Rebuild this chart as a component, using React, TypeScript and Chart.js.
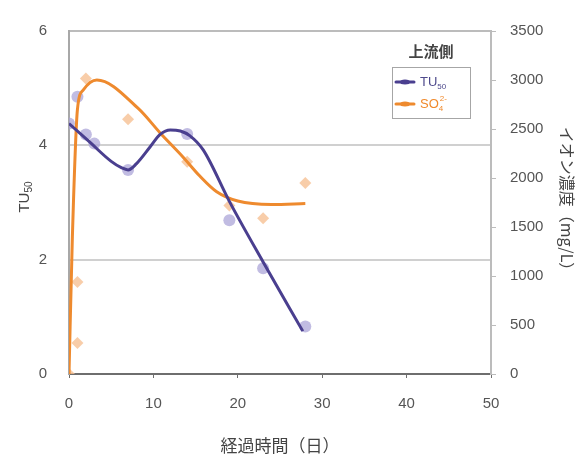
import React, { useEffect, useRef } from "react";
import { Chart, registerables } from "chart.js";

Chart.register(...registerables);

// Measured points (markers)
const tuDays = [0, 1, 2, 3, 7, 14, 19, 23, 28];
const tuValues = [4.38, 4.85, 4.19, 4.03, 3.57, 4.2, 2.69, 1.85, 0.83];
const so4Days = [0, 1, 1, 2, 7, 14, 19, 23, 28];
const so4Values = [0, 316, 940, 3016, 2600, 2166, 1720, 1590, 1950];

// Smoothed curves
const tuCurveDays = [0, 2.5, 5, 6.2, 7, 8, 9.6, 10.8, 12, 13.2, 14.3, 15.9, 19, 23, 27.7];
const tuCurveValues = [4.38, 4.05, 3.72, 3.61, 3.57, 3.68, 3.97, 4.19, 4.27, 4.25, 4.17, 3.92, 3.02, 1.96, 0.75];
const so4CurveDays = [0, 0.4, 1, 1.7, 3.3, 8.2, 10.8, 13.5, 15.5, 17.5, 20, 24, 28];
const so4CurveValues = [0, 1400, 2700, 2900, 3000, 2710, 2460, 2215, 2020, 1860, 1765, 1730, 1740];

const xTicks = [0, 10, 20, 30, 40, 50];
const leftTicks = [0, 2, 4, 6];
const rightTicks = [0, 500, 1000, 1500, 2000, 2500, 3000, 3500];

const xTitle = "経過時間（日）";
const rightTitle = "イオン濃度（mg/L）";
const legendTitle = "上流側";

const PURPLE = "#4a3f8f";
const ORANGE = "#ee8a2e";
const NUM_FONT = "'Liberation Sans', Arial, sans-serif";
const JP_FONT = "'Noto Sans CJK JP', sans-serif";

const pts = (xs: number[], ys: number[]) => xs.map((x, i) => ({ x, y: ys[i] }));

const overlay = {
  id: "overlay",
  afterDraw(chart: any) {
    const ctx = chart.ctx as CanvasRenderingContext2D;
    ctx.save();
    // left axis title TU50
    ctx.translate(25, 197);
    ctx.rotate(-Math.PI / 2);
    ctx.fillStyle = "#444";
    ctx.textBaseline = "middle";
    ctx.font = `15px ${NUM_FONT}`;
    const w1 = ctx.measureText("TU").width;
    ctx.font = `10px ${NUM_FONT}`;
    const w2 = ctx.measureText("50").width;
    const sx = -(w1 + w2) / 2;
    ctx.font = `15px ${NUM_FONT}`;
    ctx.textAlign = "left";
    ctx.fillText("TU", sx, 0);
    ctx.font = `10px ${NUM_FONT}`;
    ctx.fillText("50", sx + w1, 4);
    ctx.restore();

    // legend
    ctx.save();
    ctx.fillStyle = "#444";
    ctx.font = `bold 15px ${JP_FONT}`;
    ctx.textAlign = "center";
    ctx.textBaseline = "middle";
    ctx.fillText(legendTitle, 431, 51);
    ctx.fillStyle = "#fff";
    ctx.fillRect(392, 67, 79, 52);
    ctx.strokeStyle = "#a6a6a6";
    ctx.lineWidth = 1;
    ctx.strokeRect(392.5, 67.5, 78, 51);
    const rows = [
      { y: 82, color: PURPLE, main: "TU", sub: "50", sup: "", textColor: "#4e4a8c" },
      { y: 104, color: ORANGE, main: "SO", sub: "4", sup: "2-", textColor: "#f0892b" },
    ];
    rows.forEach((r) => {
      ctx.strokeStyle = r.color;
      ctx.lineWidth = 3;
      ctx.lineCap = "round";
      ctx.beginPath();
      ctx.moveTo(396, r.y);
      ctx.lineTo(414, r.y);
      ctx.stroke();
      ctx.fillStyle = r.color;
      ctx.beginPath();
      ctx.ellipse(405, r.y, 5, 2.5, 0, 0, Math.PI * 2);
      ctx.fill();
      ctx.fillStyle = r.textColor;
      ctx.textAlign = "left";
      ctx.textBaseline = "middle";
      ctx.font = `13px ${NUM_FONT}`;
      ctx.fillText(r.main, 420, r.y);
      const mw = ctx.measureText(r.main).width;
      ctx.font = `8px ${NUM_FONT}`;
      ctx.fillText(r.sub, 420 + mw, r.y + 5);
      if (r.sup) ctx.fillText(r.sup, 420 + mw + 1, r.y - 5);
    });
    ctx.restore();
  },
};

export default function App() {
  const ref = useRef<HTMLCanvasElement | null>(null);
  useEffect(() => {
    if (!ref.current) return;
    const chart = new Chart(ref.current, {
      type: "scatter",
      data: {
        datasets: [
          {
            label: "TU50",
            data: pts(tuCurveDays, tuCurveValues),
            showLine: true,
            borderColor: PURPLE,
            borderWidth: 3,
            pointRadius: 0,
            cubicInterpolationMode: "monotone",
            yAxisID: "y",
          },
          {
            label: "SO4",
            data: pts(so4CurveDays, so4CurveValues),
            showLine: true,
            borderColor: ORANGE,
            borderWidth: 3,
            pointRadius: 0,
            cubicInterpolationMode: "monotone",
            yAxisID: "y2",
          },
          {
            label: "TU50 measured",
            data: pts(tuDays, tuValues),
            showLine: false,
            pointStyle: "circle",
            pointRadius: 6,
            pointBorderWidth: 0,
            backgroundColor: "rgba(172,166,216,0.75)",
            borderColor: "rgba(172,166,216,0)",
            yAxisID: "y",
          },
          {
            label: "SO4 measured",
            data: pts(so4Days, so4Values),
            showLine: false,
            pointStyle: "rectRot",
            pointRadius: 6,
            pointBorderWidth: 0,
            backgroundColor: "rgba(246,192,148,0.8)",
            borderColor: "rgba(246,192,148,0)",
            yAxisID: "y2",
          },
        ],
      } as any,
      options: {
        animation: false,
        responsive: false,
        layout: { padding: { top: 20, left: 0, right: 0, bottom: 0 } },
        plugins: { legend: { display: false }, tooltip: { enabled: false } },
        scales: {
          x: {
            type: "linear",
            min: 0,
            max: 50,
            afterBuildTicks: (s: any) => {
              s.ticks = xTicks.map((v) => ({ value: v }));
            },
            afterFit: (s: any) => {
              s.height = 82;
            },
            border: { display: true, color: "#6e6e6e", width: 2 },
            grid: { drawOnChartArea: false, drawTicks: true, tickLength: 4, color: "#6e6e6e", lineWidth: 1 },
            ticks: { padding: 17, color: "#555", font: { family: NUM_FONT, size: 15 } },
            title: {
              display: true,
              text: xTitle,
              color: "#444",
              font: { family: JP_FONT, size: 17 },
              padding: { top: 8, bottom: 0 },
            },
          },
          y: {
            type: "linear",
            position: "left",
            min: 0,
            max: 6,
            afterBuildTicks: (s: any) => {
              s.ticks = leftTicks.map((v) => ({ value: v }));
            },
            afterFit: (s: any) => {
              s.width = 69;
            },
            border: { display: true, color: "#a8a8a8", width: 2 },
            grid: {
              drawTicks: false,
              lineWidth: 2,
              color: (c: any) => (c.tick && c.tick.value === 0 ? "rgba(0,0,0,0)" : c.tick && c.tick.value === 6 ? "#bcbcbc" : "#d0d0d0"),
            },
            ticks: { padding: 22, color: "#555", font: { family: NUM_FONT, size: 15 } },
          },
          y2: {
            type: "linear",
            position: "right",
            min: 0,
            max: 3500,
            afterBuildTicks: (s: any) => {
              s.ticks = rightTicks.map((v) => ({ value: v }));
            },
            afterFit: (s: any) => {
              s.width = 93;
            },
            border: { display: true, color: "#bcbcbc", width: 2 },
            grid: { drawOnChartArea: false, drawTicks: true, tickLength: 5, color: "#bcbcbc", lineWidth: 1 },
            ticks: {
              padding: 14,
              color: "#555",
              font: { family: NUM_FONT, size: 15 },
              callback: (v: any) => String(v),
            },
            title: {
              display: true,
              text: rightTitle,
              color: "#444",
              font: { family: JP_FONT, size: 16 },
              padding: { top: 7, bottom: 0 },
            },
          },
        },
      } as any,
      plugins: [overlay],
    });
    return () => chart.destroy();
  }, []);
  return (
    <div style={{ position: "absolute", left: 0, top: 0, width: 584, height: 456, background: "#fff" }}>
      <canvas ref={ref} width={584} height={456} style={{ width: 584, height: 456 }} />
    </div>
  );
}
